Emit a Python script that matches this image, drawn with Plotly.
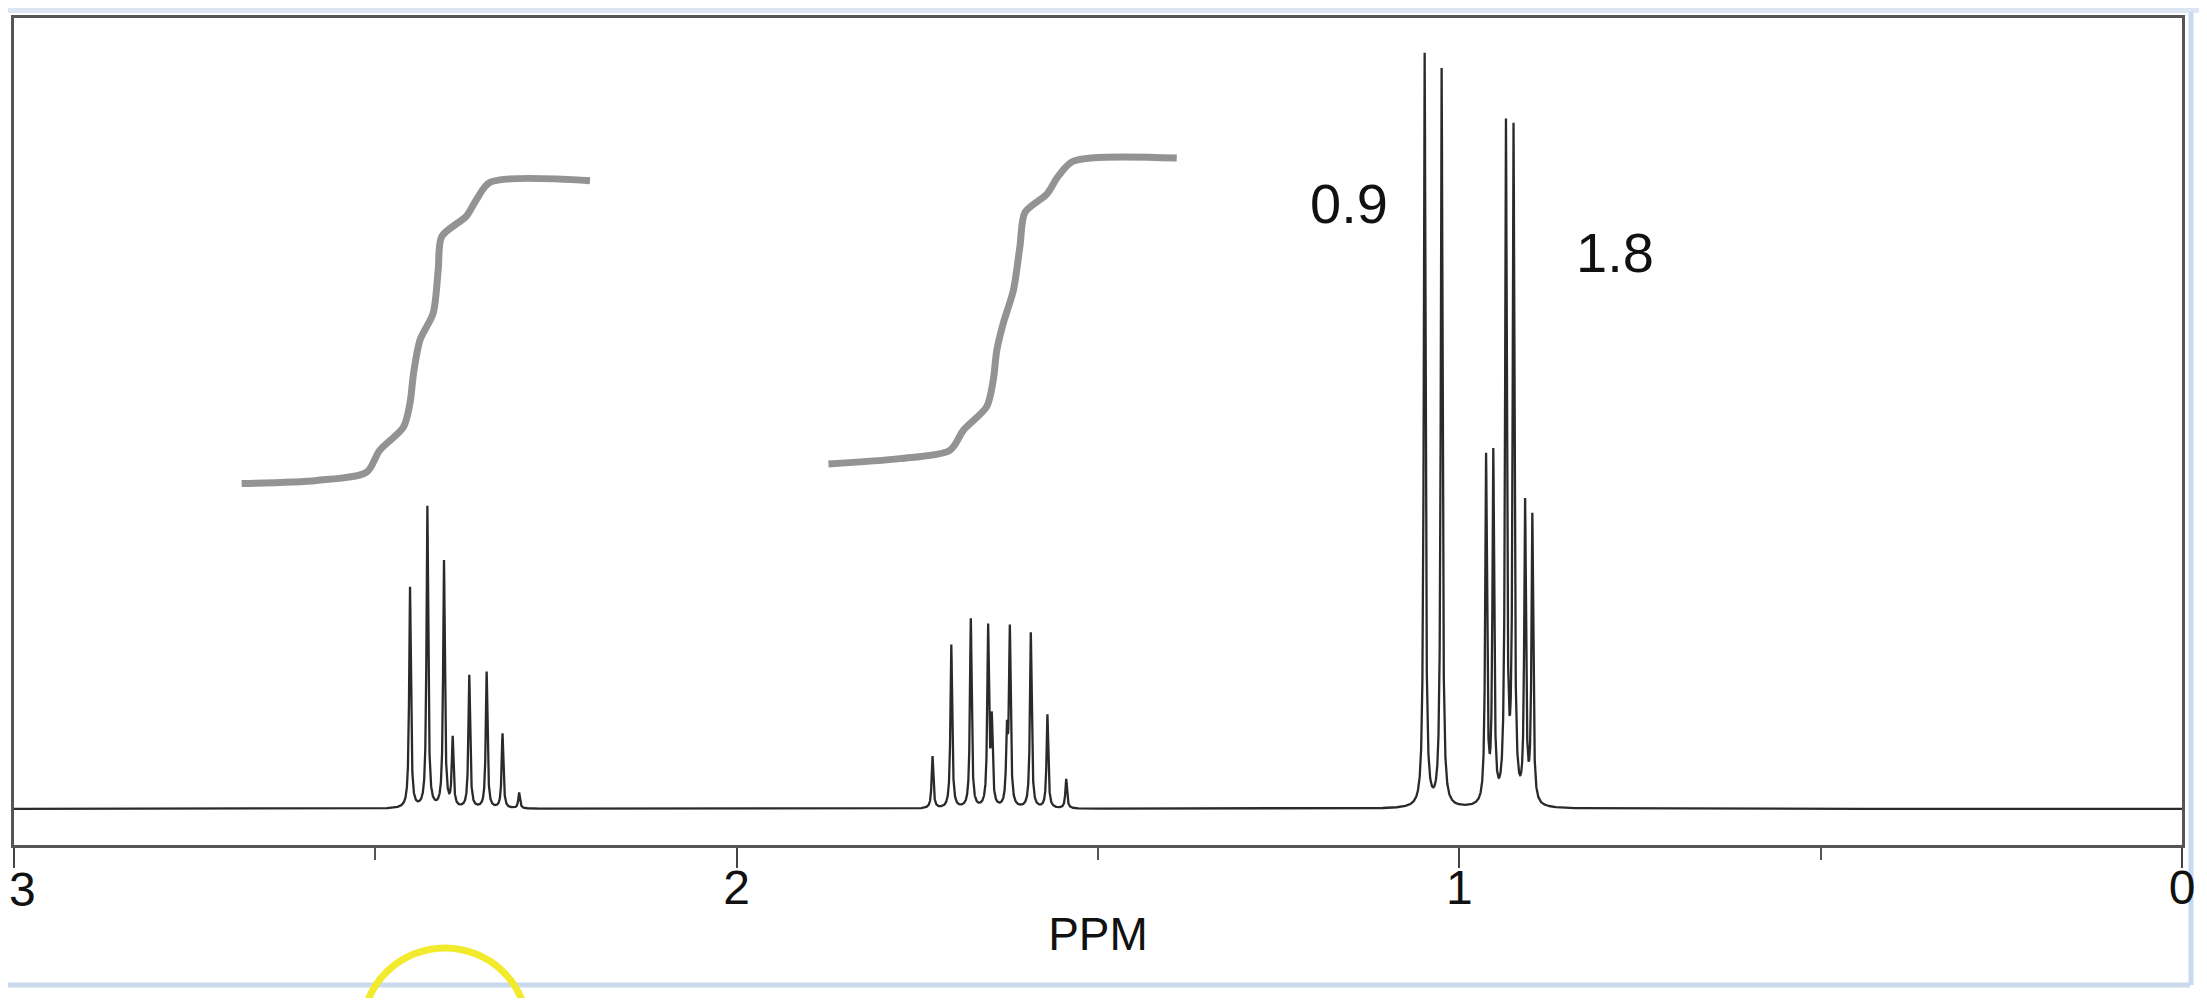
import numpy as np
import plotly.graph_objects as go

# ---- Data ----
# Peak positions (ppm) and relative heights (tallest = 100)
grp1_ppm = [2.452, 2.428, 2.405, 2.393, 2.370, 2.346, 2.324, 2.301]
grp1_int = [29.3, 40.0, 32.7, 9.1, 17.6, 18.1, 9.9, 2.1]

grp2_ppm = [1.729, 1.703, 1.676, 1.652, 1.647, 1.626, 1.622, 1.593, 1.570, 1.544]
grp2_int = [6.9, 21.7, 25.1, 23.6, 11.0, 9.0, 23.3, 23.3, 12.4, 3.9]

grp3_ppm = [1.048, 1.0245, 0.963, 0.953, 0.9355, 0.925, 0.909, 0.899]
grp3_int = [100.0, 97.9, 45.9, 46.1, 89.5, 88.9, 39.5, 38.1]

line_width_ppm = 0.0014  # Lorentzian half width

# Integration traces (ppm, height)
integ1_ppm = [2.685, 2.581, 2.512, 2.494, 2.461, 2.452, 2.447, 2.438, 2.420, 2.413, 2.408, 2.374, 2.360, 2.341, 2.203]
integ1_val = [43.2, 43.6, 44.7, 47.6, 50.7, 53.9, 57.9, 62.3, 65.8, 71.6, 76.0, 78.7, 80.9, 83.2, 83.4]

integ2_ppm = [1.873, 1.774, 1.705, 1.686, 1.654, 1.645, 1.640, 1.631, 1.617, 1.608, 1.601, 1.571, 1.555, 1.534, 1.391]
integ2_val = [45.8, 46.5, 47.6, 50.3, 53.4, 56.9, 60.9, 64.5, 68.9, 74.7, 79.2, 81.6, 84.0, 86.0, 86.4]

# Integration labels
label_text = ["0.9", "1.8"]
label_ppm = [1.153, 0.785]
label_y = [80.4, 73.9]

tick_vals = [3, 2, 1, 0]
tick_text = ["3", "2", "1", "0"]

# ---- Build spectrum from peak list ----
peaks_ppm = np.array(grp1_ppm + grp2_ppm + grp3_ppm)
peaks_int = np.array(grp1_int + grp2_int + grp3_int)
x = np.linspace(3.0, 0.0, 30001)
g2 = line_width_ppm ** 2
y = np.zeros_like(x)
for p, h in zip(peaks_ppm, peaks_int):
    y += h * g2 / (g2 + (x - p) ** 2)

# page offset from default body margin
OFF = 8
W, H = 2207 - 2 * OFF, 1006 - 2 * OFF
L, T = 14 - OFF, 18 - OFF
R = W - (2182 - OFF)
B = H - (845 - OFF)

fig = go.Figure()
integ_line = dict(color="rgba(105,105,105,0.72)", width=7, shape="spline", smoothing=0.8)
fig.add_trace(go.Scatter(x=integ1_ppm, y=integ1_val, mode="lines", line=integ_line,
                         hoverinfo="skip", showlegend=False))
fig.add_trace(go.Scatter(x=integ2_ppm, y=integ2_val, mode="lines", line=integ_line,
                         hoverinfo="skip", showlegend=False))
fig.add_trace(go.Scatter(x=x, y=y, mode="lines",
                         line=dict(color="#2a2a2a", width=2.3),
                         showlegend=False))

for t, px_, py_ in zip(label_text, label_ppm, label_y):
    fig.add_annotation(x=px_, y=py_, text=t, showarrow=False,
                       font=dict(family="Liberation Sans, Arial", size=56, color="#111"))

def pxx(px):
    return (px - OFF - L) / (W - L - R)

def pxy(py):
    return (H - B - (py - OFF)) / (H - T - B)

# the leftmost tick label sits at the page edge; drawn as annotation so it is not dropped
fig.add_annotation(x=tick_vals[0], xref="x", y=pxy(889), yref="paper", text=tick_text[0],
                   showarrow=False, xshift=8, yanchor="middle", xanchor="center",
                   font=dict(family="Liberation Sans, Arial", size=48, color="#111"))

# window border artefacts (light blue) and yellow cursor ring
fig.add_shape(type="rect", xref="paper", yref="paper", x0=pxx(OFF), x1=pxx(2207), y0=pxy(13), y1=pxy(OFF),
              line=dict(width=0), fillcolor="rgba(205,220,238,0.7)", layer="below")
fig.add_shape(type="line", xref="paper", yref="paper", x0=pxx(OFF), x1=pxx(2190), y0=pxy(985), y1=pxy(985),
              line=dict(color="#c9d9ee", width=5), layer="below")
fig.add_shape(type="line", xref="paper", yref="paper", x0=pxx(2191), x1=pxx(2191), y0=pxy(12), y1=pxy(985),
              line=dict(color="#c9d9ee", width=5), layer="below")
fig.add_shape(type="circle", xref="paper", yref="paper", x0=pxx(362), x1=pxx(528), y0=pxy(948), y1=pxy(1114),
              line=dict(color="#f2ea2c", width=7))

fig.update_layout(
    width=W, height=H,
    margin=dict(l=L, r=R, t=T, b=B, autoexpand=False),
    paper_bgcolor="white", plot_bgcolor="white",
    font=dict(family="Liberation Sans, Arial", color="#111"),
    xaxis=dict(range=[3, 0], tickvals=tick_vals, ticktext=tick_text, automargin=False,
               ticks="outside", ticklen=20, tickwidth=2, tickcolor="#444",
               ticklabelstandoff=-22,
               minor=dict(tickvals=[2.5, 1.5, 0.5], ticks="outside", ticklen=12, tickwidth=2, tickcolor="#555"),
               showline=True, linecolor="#555", linewidth=3, mirror=True,
               showgrid=False, zeroline=False,
               tickfont=dict(size=48, color="#111"),
               title=dict(text="PPM", font=dict(size=46, color="#111"), standoff=6)),
    yaxis=dict(range=[-4.8, 105.0], showticklabels=False, ticks="", automargin=False,
               showline=True, linecolor="#555", linewidth=3, mirror=True,
               showgrid=False, zeroline=False),
)

fig.write_html("out.html")
